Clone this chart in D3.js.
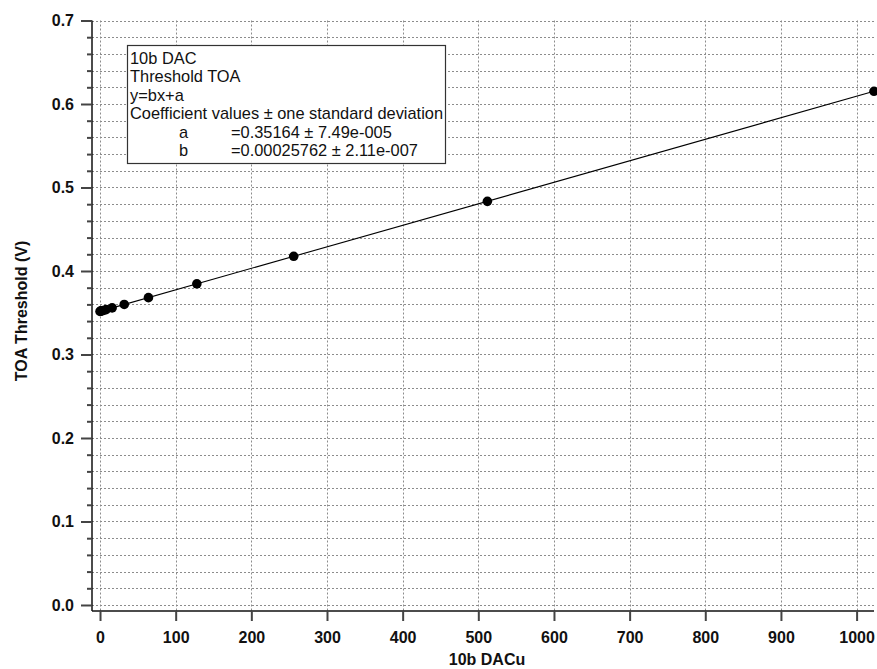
<!DOCTYPE html>
<html>
<head>
<meta charset="utf-8">
<script src="https://cdn.jsdelivr.net/npm/d3@7"></script>
<style>
  html, body { margin: 0; padding: 0; background: #fff; }
  svg { display: block; font-family: "Liberation Sans", Arial, sans-serif; }
</style>
</head>
<body>
<svg id="chart" width="877" height="669"></svg>
<script>
// Measured DAC settings and the resulting TOA threshold voltages
const dacCodes = [0, 1, 2, 4, 8, 16, 32, 64, 128, 256, 512, 1023];
const thresholds = [0.3516, 0.3519, 0.3522, 0.3527, 0.3537, 0.3558, 0.3599, 0.3681, 0.3847, 0.4176, 0.4834, 0.6152];

// Linear fit y = b*x + a
const fitA = 0.35164;
const fitB = 0.00025762;

const xTicks = [0, 100, 200, 300, 400, 500, 600, 700, 800, 900, 1000];
const yTicks = [0.0, 0.1, 0.2, 0.3, 0.4, 0.5, 0.6, 0.7];
const yMinorTicks = d3.range(0, 36).map(i => +(i * 0.02).toFixed(2));

const legendLines = [
  "10b DAC",
  "Threshold TOA",
  "y=bx+a",
  "Coefficient values \u00b1 one standard deviation"
];
const legendCoefs = [
  ["a", "=0.35164 \u00b1 7.49e-005"],
  ["b", "=0.00025762 \u00b1 2.11e-007"]
];

const svg = d3.select("#chart");
const plotLeft = 92, plotRight = 874, plotTop = 20.5, plotBottom = 611;

const x = d3.scaleLinear().domain([-10.6, 1023]).range([plotLeft, plotRight]);
const y = d3.scaleLinear().domain([-0.0072, 0.7]).range([plotBottom, plotTop]);

// Dotted grid
const grid = svg.append("g").attr("stroke", "#8c8c8c").attr("stroke-width", 1)
  .attr("stroke-dasharray", "2,2").attr("fill", "none");
grid.selectAll("line.h").data(yMinorTicks).join("line")
  .attr("class", "h")
  .attr("x1", plotLeft).attr("x2", plotRight)
  .attr("y1", d => Math.round(y(d)) + 0.5).attr("y2", d => Math.round(y(d)) + 0.5);
grid.selectAll("line.v").data(xTicks).join("line")
  .attr("class", "v")
  .attr("x1", d => Math.round(x(d)) + 0.5).attr("x2", d => Math.round(x(d)) + 0.5)
  .attr("y1", plotTop).attr("y2", plotBottom);

// Y axis: major ticks with labels, minor ticks every 0.02
const yAxis = svg.append("g").attr("transform", `translate(${plotLeft},0)`)
  .call(d3.axisLeft(y).tickValues(yTicks).tickFormat(d3.format(".1f")).tickSize(11).tickPadding(7));
const yMinor = svg.append("g").attr("transform", `translate(${plotLeft},0)`)
  .call(d3.axisLeft(y).tickValues(yMinorTicks.filter(v => Math.round(v * 100) % 10 !== 0))
    .tickFormat("").tickSize(5));
yMinor.select(".domain").remove();

// X axis
const xAxis = svg.append("g").attr("transform", `translate(0,${plotBottom})`)
  .call(d3.axisBottom(x).tickValues(xTicks).tickFormat(d3.format("d")).tickSize(10).tickPadding(11));

[yAxis, yMinor, xAxis].forEach(g => {
  g.selectAll(".tick line").attr("stroke", "#444").attr("stroke-width", 2);
  g.selectAll(".tick text").attr("fill", "#111").attr("font-size", 16)
    .attr("font-weight", "bold").attr("font-family", "Liberation Sans, Arial, sans-serif");
});
yAxis.select(".domain").attr("stroke", "#111").attr("stroke-width", 1.5).attr("d", `M0,${plotTop}V${plotBottom}`);
xAxis.select(".domain").attr("stroke", "#111").attr("stroke-width", 1.5).attr("d", `M${plotLeft},0H${plotRight}`);

// Axis titles
svg.append("text")
  .attr("x", 487).attr("y", 665)
  .attr("text-anchor", "middle").attr("font-size", 16).attr("font-weight", "bold").attr("fill", "#111")
  .text("10b DACu");
svg.append("text")
  .attr("transform", "translate(27,311) rotate(-90)")
  .attr("text-anchor", "middle").attr("font-size", 16).attr("font-weight", "bold").attr("fill", "#111")
  .text("TOA Threshold (V)");

// Fit line
const fitLine = d3.line().x(d => x(d)).y(d => y(fitA + fitB * d));
svg.append("path")
  .datum([0, 1023])
  .attr("d", fitLine)
  .attr("stroke", "#000").attr("stroke-width", 1.1).attr("fill", "none");

// Data points
svg.append("g").selectAll("circle").data(dacCodes).join("circle")
  .attr("cx", (d) => x(d))
  .attr("cy", (d, i) => y(thresholds[i]))
  .attr("r", 4.8)
  .attr("fill", "#000");

// Fit annotation box
const box = svg.append("g");
box.append("rect")
  .attr("x", 127.5).attr("y", 45.5).attr("width", 318).attr("height", 118)
  .attr("fill", "#fff").attr("stroke", "#333").attr("stroke-width", 1.2);
const lh = 18.4;
const legendFont = 16.4;
box.selectAll("text.l").data(legendLines).join("text")
  .attr("class", "l")
  .attr("x", 130).attr("y", (d, i) => 64 + i * lh)
  .attr("font-size", legendFont).attr("fill", "#111")
  .text(d => d);
legendCoefs.forEach((c, i) => {
  const yy = 64 + (legendLines.length + i) * lh;
  box.append("text").attr("x", 179).attr("y", yy).attr("font-size", legendFont).attr("fill", "#111").text(c[0]);
  box.append("text").attr("x", 231).attr("y", yy).attr("font-size", legendFont).attr("fill", "#111").text(c[1]);
});
</script>
</body>
</html>
